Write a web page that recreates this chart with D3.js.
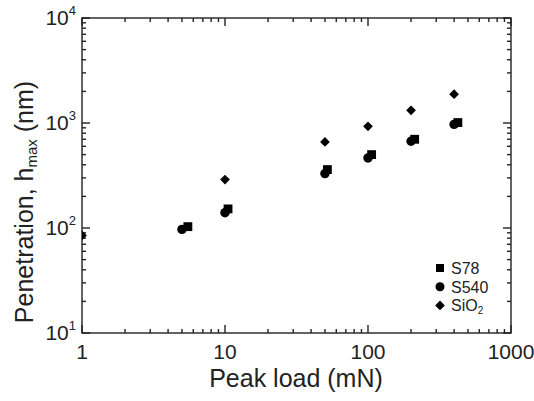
<!DOCTYPE html>
<html>
<head>
<meta charset="utf-8">
<script src="https://cdn.jsdelivr.net/npm/d3@7"></script>
<style>
  body { margin: 0; background: #fff; }
  svg { font-family: "Liberation Sans", Arial, sans-serif; }
</style>
</head>
<body>
<svg id="graph" width="534" height="401"></svg>
<script>
// data
const loadS78 = [5.5, 10.5, 52, 106, 212, 425];
const hS78 = [103, 152, 360, 500, 700, 1010];
const loadS540 = [5, 10, 50, 100, 200, 400];
const hS540 = [97, 140, 330, 465, 670, 970];
const loadSiO2 = [1, 10, 50, 100, 200, 400];
const hSiO2 = [85, 289, 660, 930, 1320, 1880];
const xTicks = [1, 10, 100, 1000];
const yTicks = [10, 100, 1000, 10000];
const seriesNames = ["S78", "S540", "SiO2"];

let svg = d3.select("#graph");

let pL = 82, pR = 511, pT = 18, pB = 333;

let scX = d3.scaleLog().domain([1, 1000]).range([pL, pR]);
let scY = d3.scaleLog().domain([10, 10000]).range([pB, pT]);

let ink = "#222";

// minor ticks
let minors = function (dom) {
    let out = [];
    for (let d = dom[0]; d < dom[1]; d *= 10) {
        for (let k = 2; k <= 9; k++) out.push(d * k);
    }
    return out;
};

svg.append("clipPath").attr("id", "plot")
    .append("rect")
    .attr("x", pL).attr("y", pT)
    .attr("width", pR - pL).attr("height", pB - pT);

// axes with inward ticks on every side
let axes = svg.append("g").attr("stroke", ink).attr("stroke-width", 1.4);

let drawTicks = function (vals, len) {
    vals.forEach((v) => {
        let x = scX(v);
        axes.append("line").attr("x1", x).attr("x2", x).attr("y1", pB).attr("y2", pB - len);
        axes.append("line").attr("x1", x).attr("x2", x).attr("y1", pT).attr("y2", pT + len);
    });
};
let drawTicksY = function (vals, len) {
    vals.forEach((v) => {
        let y = scY(v);
        axes.append("line").attr("x1", pL).attr("x2", pL + len).attr("y1", y).attr("y2", y);
        axes.append("line").attr("x1", pR).attr("x2", pR - len).attr("y1", y).attr("y2", y);
    });
};
drawTicks(minors([1, 1000]), 4);
drawTicks(xTicks, 8);
drawTicksY(minors([10, 10000]), 4);
drawTicksY(yTicks, 8);

axes.append("rect")
    .attr("x", pL).attr("y", pT)
    .attr("width", pR - pL).attr("height", pB - pT)
    .attr("fill", "none");

// tick labels
svg.append("g").selectAll("text")
    .data(xTicks)
    .enter()
    .append("text")
    .attr("x", (d) => scX(d))
    .attr("y", pB + 26)
    .attr("text-anchor", "middle")
    .attr("font-size", 21)
    .attr("fill", ink)
    .text((d) => d);

let yl = svg.append("g").selectAll("text")
    .data(yTicks)
    .enter()
    .append("text")
    .attr("x", pL - 6)
    .attr("y", (d) => scY(d) + 7)
    .attr("text-anchor", "end")
    .attr("font-size", 21)
    .attr("fill", ink);
yl.append("tspan").text("10");
yl.append("tspan")
    .attr("font-size", 13)
    .attr("dy", -10)
    .text((d) => Math.round(Math.log10(d)));

// axis titles
svg.append("text")
    .attr("x", 296)
    .attr("y", 387)
    .attr("text-anchor", "middle")
    .attr("font-size", 25)
    .attr("fill", ink)
    .text("Peak load (mN)");

let yt = svg.append("text")
    .attr("transform", "translate(33,180) rotate(-90)")
    .attr("text-anchor", "middle")
    .attr("font-size", 25)
    .attr("fill", ink);
yt.append("tspan").text("Penetration, h");
yt.append("tspan").attr("font-size", 15).attr("dy", 4).text("max");
yt.append("tspan").attr("dy", -4).text(" (nm)");
// the rendered run sits higher than its middle anchor suggests; nudge down
yt.attr("y", 0).attr("x", -22);

// markers
let symSquare = d3.symbol().type(d3.symbolSquare).size(78);
let symCircle = d3.symbol().type(d3.symbolCircle).size(70);
let symDiamond = d3.symbol().type(d3.symbolDiamond2).size(60);

let drawData = function (xs, ys, sym) {
    svg.append("g")
        .attr("clip-path", "url(#plot)")
        .selectAll("path")
        .data(xs)
        .enter()
        .append("path")
        .attr("d", sym)
        .attr("fill", "#000")
        .attr("transform", (d, i) => "translate(" + scX(d) + "," + scY(ys[i]) + ")");
};
drawData(loadSiO2, hSiO2, symDiamond);
drawData(loadS540, hS540, symCircle);
drawData(loadS78, hS78, symSquare);

// legend
let legSyms = [
    d3.symbol().type(d3.symbolSquare).size(64),
    d3.symbol().type(d3.symbolCircle).size(64),
    d3.symbol().type(d3.symbolDiamond2).size(60),
];
let leg = svg.append("g").attr("transform", "translate(440,268)");
seriesNames.forEach((name, i) => {
    let row = leg.append("g").attr("transform", "translate(0," + i * 18.7 + ")");
    row.append("path").attr("d", legSyms[i]).attr("fill", "#000");
    let t = row.append("text")
        .attr("x", 11)
        .attr("y", 6)
        .attr("font-size", 16)
        .attr("fill", ink);
    if (name === "SiO2") {
        t.append("tspan").text("SiO");
        t.append("tspan").attr("font-size", 10).attr("dy", 3).text("2");
    } else {
        t.text(name);
    }
});
</script>
</body>
</html>
